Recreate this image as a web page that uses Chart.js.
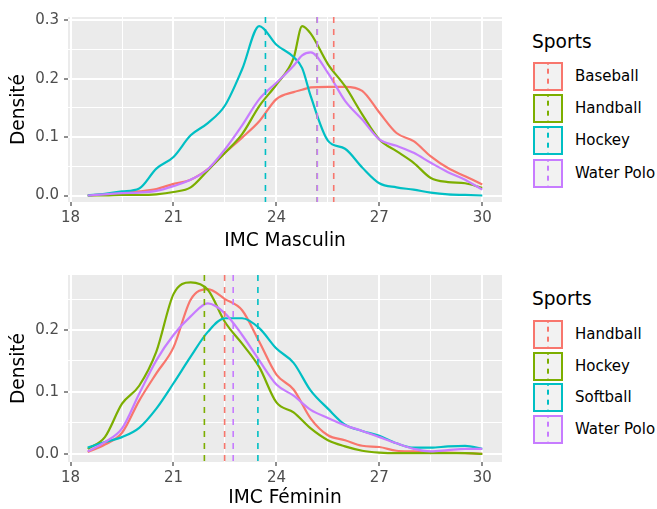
<!DOCTYPE html>
<html>
<head>
<meta charset="utf-8">
<script src="https://cdn.jsdelivr.net/npm/chart.js@4.4.0/dist/chart.umd.min.js"></script>
<style>
html,body{margin:0;padding:0;background:#fff;}
body{width:657px;height:509px;position:relative;overflow:hidden;font-family:'DejaVu Sans',sans-serif;}
canvas{position:absolute;left:0;}
#legend{position:absolute;left:533px;top:0;}
.leg-title{position:absolute;left:-1px;font-size:18.6px;line-height:18px;color:#000;white-space:nowrap;}
.key{position:absolute;left:0;width:30px;height:29px;box-sizing:border-box;border:2px solid;background:#f2f2f2;}
.key i{position:absolute;left:12px;top:-2px;width:2px;height:29px;}
.lab{position:absolute;left:42px;font-size:15px;line-height:29px;color:#000;white-space:nowrap;}
</style>
</head>
<body>
<canvas id="men" width="512" height="256" style="top:0"></canvas>
<canvas id="women" width="512" height="253" style="top:256px"></canvas>
<div id="legend"></div>
<script>
// couleurs ggplot (hue)
const colors = ['#F8766D', '#7CAE00', '#00BFC4', '#C77CFF'];

// IMC masculin
const menX = [18.5, 19, 19.5, 20, 20.5, 21, 21.5, 22, 22.5, 23, 23.5, 24, 24.5, 24.75, 25, 25.5, 26, 26.5, 27, 27.5, 28, 28.5, 29, 29.5, 30];
const menSports = ['Baseball', 'Handball', 'Hockey', 'Water Polo'];
const menBaseball = [0.000, 0.002, 0.005, 0.007, 0.011, 0.020, 0.027, 0.045, 0.073, 0.099, 0.127, 0.165, 0.177, 0.181, 0.185, 0.186, 0.186, 0.179, 0.142, 0.107, 0.093, 0.067, 0.047, 0.033, 0.019];
const menHandball = [0.000, 0.000, 0.001, 0.001, 0.002, 0.006, 0.014, 0.043, 0.073, 0.105, 0.153, 0.190, 0.235, 0.290, 0.277, 0.225, 0.187, 0.139, 0.096, 0.076, 0.056, 0.030, 0.023, 0.021, 0.013];
const menHockey = [0.000, 0.003, 0.007, 0.012, 0.046, 0.066, 0.103, 0.124, 0.154, 0.216, 0.290, 0.258, 0.237, 0.218, 0.170, 0.094, 0.080, 0.048, 0.021, 0.014, 0.010, 0.005, 0.002, 0.001, 0.000];
const menWaterPolo = [0.000, 0.002, 0.004, 0.005, 0.008, 0.016, 0.027, 0.045, 0.079, 0.120, 0.165, 0.193, 0.222, 0.240, 0.245, 0.210, 0.162, 0.130, 0.096, 0.085, 0.073, 0.056, 0.040, 0.027, 0.010];
const menMeans = [25.67, 25.19, 23.68, 25.19];

// IMC féminin
const womenX = [18.5, 19, 19.5, 20, 20.5, 21, 21.5, 22, 22.5, 23, 23.5, 24, 24.5, 25, 25.5, 26, 26.5, 27, 27.5, 28, 28.5, 29, 29.5, 30];
const womenSports = ['Handball', 'Hockey', 'Softball', 'Water Polo'];
const womenHandball = [0.003, 0.015, 0.034, 0.086, 0.130, 0.172, 0.249, 0.266, 0.250, 0.232, 0.181, 0.128, 0.104, 0.057, 0.030, 0.022, 0.013, 0.011, 0.005, 0.004, 0.003, 0.002, 0.001, 0.000];
const womenHockey = [0.008, 0.027, 0.081, 0.110, 0.165, 0.258, 0.277, 0.265, 0.213, 0.178, 0.140, 0.083, 0.067, 0.041, 0.022, 0.012, 0.005, 0.002, 0.001, 0.001, 0.001, 0.001, 0.001, 0.000];
const womenSoftball = [0.010, 0.019, 0.027, 0.042, 0.073, 0.114, 0.157, 0.197, 0.219, 0.219, 0.203, 0.170, 0.147, 0.102, 0.073, 0.047, 0.037, 0.029, 0.017, 0.010, 0.010, 0.012, 0.013, 0.008];
const womenWaterPolo = [0.004, 0.019, 0.041, 0.097, 0.151, 0.192, 0.222, 0.243, 0.227, 0.192, 0.151, 0.112, 0.094, 0.071, 0.058, 0.046, 0.037, 0.027, 0.017, 0.008, 0.004, 0.006, 0.008, 0.008];
const womenMeans = [22.49, 21.90, 23.46, 22.74];

// graduations
const xTicks = [18, 21, 24, 27, 30];
const yTicksMen = [0, 0.1, 0.2, 0.3];
const yTicksWomen = [0, 0.1, 0.2];

Chart.defaults.font.family = "'DejaVu Sans', sans-serif";

const panelBg = {
  id: 'panelBg',
  beforeDraw(chart) {
    const {ctx, chartArea: a} = chart;
    ctx.save();
    ctx.fillStyle = '#ebebeb';
    ctx.fillRect(a.left, a.top, a.right - a.left, a.bottom - a.top);
    ctx.restore();
  }
};

// majeures + mineures (milieux) comme ggplot
function withMinor(major, min, max) {
  const step = major[1] - major[0];
  const out = [];
  const first = major[0] - step / 2;
  if (first >= min) out.push({value: first, main: false});
  major.forEach(v => {
    out.push({value: v, main: true});
    const m = v + step / 2;
    if (m <= max) out.push({value: m, main: false});
  });
  return out;
}

function axisGrid() {
  return {
    color: '#ffffff',
    lineWidth: c => (c.tick && c.tick.main) ? 2 : 1,
    tickColor: c => (c.tick && c.tick.main) ? '#333333' : 'rgba(0,0,0,0)',
    tickLength: 4,
    tickWidth: 1.1
  };
}

function makeChart(id, xs, series, means, yTicks, yMin, yMax, xTitle, lay) {
  const xMin = 17.925, xMax = 30.575;
  const datasets = [];
  series.forEach((ys, i) => {
    datasets.push({
      data: xs.map((x, j) => ({x: x, y: ys[j]})),
      borderColor: colors[i],
      borderWidth: 2.2,
      pointRadius: 0,
      fill: false,
      cubicInterpolationMode: 'monotone',
      order: 100 - i
    });
  });
  // moyennes : lignes verticales pointillées
  means.forEach((m, i) => {
    datasets.push({
      data: [{x: m, y: yMax}, {x: m, y: yMin}],
      borderColor: colors[i],
      borderWidth: 1.6,
      borderDash: [6, 6],
      pointRadius: 0,
      fill: false,
      order: 10 - i
    });
  });

  return new Chart(document.getElementById(id), {
    type: 'line',
    data: {datasets: datasets},
    plugins: [panelBg],
    options: {
      responsive: false,
      devicePixelRatio: 1,
      animation: false,
      layout: {padding: {left: 0, right: 10, top: lay.top, bottom: 0}},
      plugins: {legend: {display: false}, tooltip: {enabled: false}},
      scales: {
        x: {
          type: 'linear', min: xMin, max: xMax,
          afterBuildTicks: s => { s.ticks = withMinor(xTicks, xMin, xMax); },
          afterFit: s => { s.height = lay.xh; },
          border: {display: false},
          grid: axisGrid(),
          ticks: {
            autoSkip: false, maxRotation: 0, padding: 3.5,
            color: '#4d4d4d', font: {size: 15},
            callback: v => xTicks.includes(v) ? String(v) : ''
          },
          title: {display: true, text: xTitle, color: '#000', font: {size: 18.6},
                  padding: {top: 0, bottom: lay.tb}}
        },
        y: {
          type: 'linear', min: yMin, max: yMax,
          afterBuildTicks: s => { s.ticks = withMinor(yTicks, yMin, yMax); },
          afterFit: s => { s.width = 68; },
          border: {display: false},
          grid: axisGrid(),
          ticks: {
            autoSkip: false, padding: 5,
            color: '#4d4d4d', font: {size: 15},
            callback: v => yTicks.some(t => Math.abs(t - v) < 1e-9) ? v.toFixed(1) : ''
          },
          title: {display: true, text: 'Densité', color: '#000', font: {size: 18.6},
                  padding: {top: 8.3, bottom: 0}}
        }
      }
    }
  });
}

makeChart('men', menX, [menBaseball, menHandball, menHockey, menWaterPolo], menMeans,
  yTicksMen, -0.0111, 0.3055, 'IMC Masculin', {top: 17, xh: 54, tb: 3.3});
makeChart('women', womenX, [womenHandball, womenHockey, womenSoftball, womenWaterPolo], womenMeans,
  yTicksWomen, -0.0132, 0.2889, 'IMC Féminin', {top: 19, xh: 47, tb: 0});

function buildLegend(el, titleTop, keyTop, step, sports) {
  const t = document.createElement('div');
  t.className = 'leg-title';
  t.style.top = titleTop + 'px';
  t.textContent = 'Sports';
  el.appendChild(t);
  sports.forEach((s, i) => {
    const top = keyTop + i * step;
    const k = document.createElement('div');
    k.className = 'key';
    k.style.top = top + 'px';
    k.style.borderColor = colors[i];
    const d = document.createElement('i');
    d.style.background = 'repeating-linear-gradient(to bottom, ' + colors[i] + ' 0 5px, transparent 5px 10px)';
    d.style.backgroundPosition = '0 6.7px';
    k.appendChild(d);
    el.appendChild(k);
    const l = document.createElement('div');
    l.className = 'lab';
    l.style.top = top + 'px';
    l.textContent = s;
    el.appendChild(l);
  });
}

const legend = document.getElementById('legend');
buildLegend(legend, 32.7, 62, 32.2, menSports);
buildLegend(legend, 290.3, 320, 31.7, womenSports);
</script>
</body>
</html>
